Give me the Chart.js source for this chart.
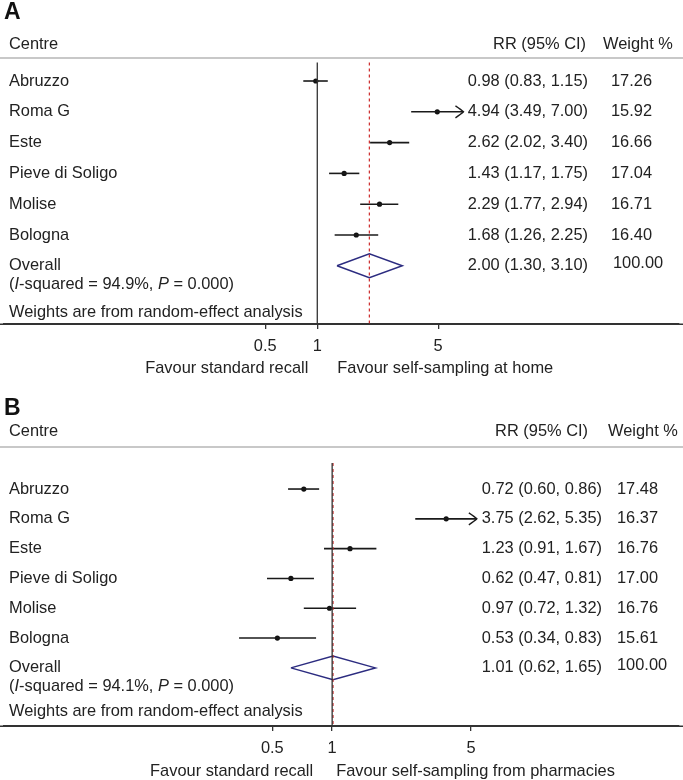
<!DOCTYPE html>
<html>
<head>
<meta charset="utf-8">
<script src="https://cdn.jsdelivr.net/npm/chart.js@4.4.1/dist/chart.umd.min.js"></script>
<style>
html,body{margin:0;padding:0;background:#fff;}
.wrap{position:absolute;left:0;width:683px;height:390px;}
</style>
</head>
<body>
<div class="wrap" style="top:0px"><canvas id="cA"></canvas></div>
<div class="wrap" style="top:390px"><canvas id="cB"></canvas></div>
<script>
// ---------- DATA ----------
const centres = ['Abruzzo', 'Roma G', 'Este', 'Pieve di Soligo', 'Molise', 'Bologna'];

// Panel A: self-sampling at home vs standard recall
const rrA = [0.98, 4.94, 2.62, 1.43, 2.29, 1.68];
const loA = [0.83, 3.49, 2.02, 1.17, 1.77, 1.26];
const hiA = [1.15, 7.00, 3.40, 1.75, 2.94, 2.25];
const weightA = [17.26, 15.92, 16.66, 17.04, 16.71, 16.40];
const arrowA = [false, true, false, false, false, false];
const overallA = [2.00, 1.30, 3.10];      // estimate, lower, upper
const iSquaredA = '94.9%';
const pValueA = '0.000';

// Panel B: self-sampling from pharmacies vs standard recall
const rrB = [0.72, 3.75, 1.23, 0.62, 0.97, 0.53];
const loB = [0.60, 2.62, 0.91, 0.47, 0.72, 0.34];
const hiB = [0.86, 5.35, 1.67, 0.81, 1.32, 0.83];
const weightB = [17.48, 16.37, 16.76, 17.00, 16.76, 15.61];
const arrowB = [false, true, false, false, false, false];
const overallB = [1.01, 0.62, 1.65];
const iSquaredB = '94.1%';
const pValueB = '0.000';

const overallWeight = 100;
const xTicks = [0.5, 1, 5];
const favourLeft = 'Favour standard recall';
const favourRightA = 'Favour self-sampling at home';
const favourRightB = 'Favour self-sampling from pharmacies';

// ---------- DRAWING ----------
const FONT = '"Liberation Sans", Arial, Helvetica, sans-serif';
const FS = '16.4px ';
const TXT = '#222';

function makePanel(canvasId, d, L) {
  const n = d.rr.length;
  const ds = [];
  ds.push({type:'line', data:[{x:1, y:L.lineTop}, {x:1, y:L.yMax}],
    borderColor:'#333', borderWidth:1.3, pointRadius:0});
  ds.push({type:'line', data:[{x:d.overall[0], y:L.lineTop}, {x:d.overall[0], y:L.yMax}],
    borderColor:'#cc2a2a', borderWidth:1.2, borderDash:[3,3], pointRadius:0});
  for (let i = 0; i < n; i++) {
    ds.push({type:'line', data:[{x:d.lo[i], y:i}, {x:d.hi[i], y:i}],
      borderColor:'#1a1a1a', borderWidth:1.6, pointRadius:0});
  }
  ds.push({type:'scatter', data:d.rr.map((v,i)=>({x:v, y:i})),
    pointRadius:2.6, backgroundColor:'#111', borderWidth:0});
  const h = L.diamondHalf, o = d.overall;
  ds.push({type:'line', data:[{x:o[1],y:n},{x:o[0],y:n-h},{x:o[2],y:n},{x:o[0],y:n+h},{x:o[1],y:n}],
    borderColor:'#2c2c80', borderWidth:1.5, pointRadius:0, fill:false, tension:0});

  const textPlugin = {
    id:'forestText'+canvasId,
    afterDatasetsDraw(chart) {
      const ctx = chart.ctx, xs = chart.scales.x, ys = chart.scales.y;
      ctx.save();
      ctx.strokeStyle = '#1a1a1a'; ctx.lineWidth = 1.4;
      d.arrow.forEach((a, i) => {
        if (!a) return;
        const px = xs.getPixelForValue(d.hi[i]), py = ys.getPixelForValue(i);
        ctx.beginPath();
        ctx.moveTo(px - 8, py - 6);
        ctx.quadraticCurveTo(px - 2, py - 2, px, py);
        ctx.quadraticCurveTo(px - 2, py + 2, px - 8, py + 6);
        ctx.stroke();
      });
      ctx.restore();
    },
    afterDraw(chart) {
      const ctx = chart.ctx, ys = chart.scales.y, xs = chart.scales.x, ca = chart.chartArea;
      ctx.save();
      // full-width axis line continuation
      ctx.strokeStyle = '#333'; ctx.lineWidth = 1.5;
      ctx.beginPath(); ctx.moveTo(0, xs.top + 0.25); ctx.lineTo(chart.width, xs.top + 0.25); ctx.stroke();
      // panel letter
      ctx.fillStyle = '#111';
      ctx.font = 'bold 23px ' + FONT;
      ctx.textAlign = 'left'; ctx.textBaseline = 'alphabetic';
      ctx.fillText(d.letter, 4, L.letterY);
      // separator
      ctx.strokeStyle = '#c8c8c8'; ctx.lineWidth = 2;
      ctx.beginPath(); ctx.moveTo(0, ca.top); ctx.lineTo(chart.width, ca.top); ctx.stroke();
      ctx.fillStyle = TXT;
      ctx.font = FS + FONT;
      ctx.textBaseline = 'middle';
      // header
      ctx.textAlign = 'left'; ctx.fillText('Centre', 9, L.headerY);
      ctx.textAlign = 'right'; ctx.fillText('RR (95% CI)', L.rrHeadRight, L.headerY);
      ctx.textAlign = 'left'; ctx.fillText('Weight %', L.wHeadX, L.headerY);
      // rows
      const fmt = v => v.toFixed(2);
      for (let i = 0; i < n; i++) {
        const y = ys.getPixelForValue(i);
        ctx.textAlign = 'left'; ctx.fillText(centres[i], 9, y);
        ctx.textAlign = 'right';
        ctx.fillText(fmt(d.rr[i]) + ' (' + fmt(d.lo[i]) + ', ' + fmt(d.hi[i]) + ')', L.rrRight, y);
        ctx.textAlign = 'left'; ctx.fillText(fmt(d.weight[i]), L.wX, y);
      }
      // overall
      const yo = ys.getPixelForValue(n);
      ctx.textAlign = 'left'; ctx.fillText('Overall', 9, yo);
      ctx.textAlign = 'right';
      ctx.fillText(fmt(o[0]) + ' (' + fmt(o[1]) + ', ' + fmt(o[2]) + ')', L.rrRight, yo);
      ctx.textAlign = 'left'; ctx.fillText(overallWeight.toFixed(2), L.wOverallX, yo - 2);
      // heterogeneity line with italics
      const yh = yo + 19;
      const parts = [['(', false], ['I', true], ['-squared = ' + d.iSq + ', ', false], ['P', true], [' = ' + d.p + ')', false]];
      let x = 9;
      parts.forEach(([t, it]) => {
        ctx.font = (it ? 'italic ' : '') + FS + FONT;
        ctx.fillText(t, x, yh);
        x += ctx.measureText(t).width;
      });
      ctx.font = FS + FONT;
      ctx.fillText('Weights are from random-effect analysis', 9, ys.getPixelForValue(L.noteRow));
      // favour labels
      const x1 = xs.getPixelForValue(1);
      ctx.textAlign = 'right'; ctx.fillText(favourLeft, x1 + L.favLeftOff, L.favourY);
      ctx.textAlign = 'left'; ctx.fillText(d.favourRight, x1 + L.favRightOff, L.favourY);
      ctx.restore();
    }
  };

  return new Chart(document.getElementById(canvasId), {
    type:'line',
    data:{datasets:ds},
    options:{
      responsive:true, maintainAspectRatio:false, animation:false, events:[],
      layout:{padding:{top:L.top, bottom:0, left:0, right:0}},
      plugins:{legend:{display:false}, tooltip:{enabled:false}, title:{display:false}},
      scales:{
        x:{type:'logarithmic', min:L.xMin, max:L.xMax, bounds:'data',
          afterBuildTicks: s => { s.ticks = xTicks.map(v => ({value:v})); },
          afterFit: s => { s.height = L.axisH; },
          grid:{display:true, drawOnChartArea:false, drawTicks:true, tickLength:5, color:'#333', lineWidth:1.3},
          border:{display:true, color:'#333', width:1.5},
          ticks:{autoSkip:false, maxRotation:0, padding:8, color:TXT,
            font:{family:FONT, size:16.4}, callback: v => String(v)}
        },
        y:{type:'linear', display:false, reverse:true, min:L.yMin, max:L.yMax}
      }
    },
    plugins:[textPlugin]
  });
}

makePanel('cA', {letter:'A', rr:rrA, lo:loA, hi:hiA, weight:weightA, arrow:arrowA,
  overall:overallA, iSq:iSquaredA, p:pValueA, favourRight:favourRightA},
  {top:58, axisH:66, yMin:-0.747, yMax:7.89, lineTop:-0.6, xMin:0.01544, xMax:123.4,
   diamondHalf:0.39, letterY:19, headerY:44, rrHeadRight:586, rrRight:588, wHeadX:603, wX:611, wOverallX:613,
   noteRow:7.5, favourY:368, favLeftOff:-9, favRightOff:20});

makePanel('cB', {letter:'B', rr:rrB, lo:loB, hi:hiB, weight:weightB, arrow:arrowB,
  overall:overallB, iSq:iSquaredB, p:pValueB, favourRight:favourRightB},
  {top:57, axisH:54, yMin:-1.41, yMax:7.95, lineTop:-0.87, xMin:0.0223, xMax:55.7,
   diamondHalf:0.4, letterY:25, headerY:41, rrHeadRight:588, rrRight:602, wHeadX:608, wX:617, wOverallX:617,
   noteRow:7.45, favourY:381, favLeftOff:-19, favRightOff:4});
</script>
</body>
</html>
